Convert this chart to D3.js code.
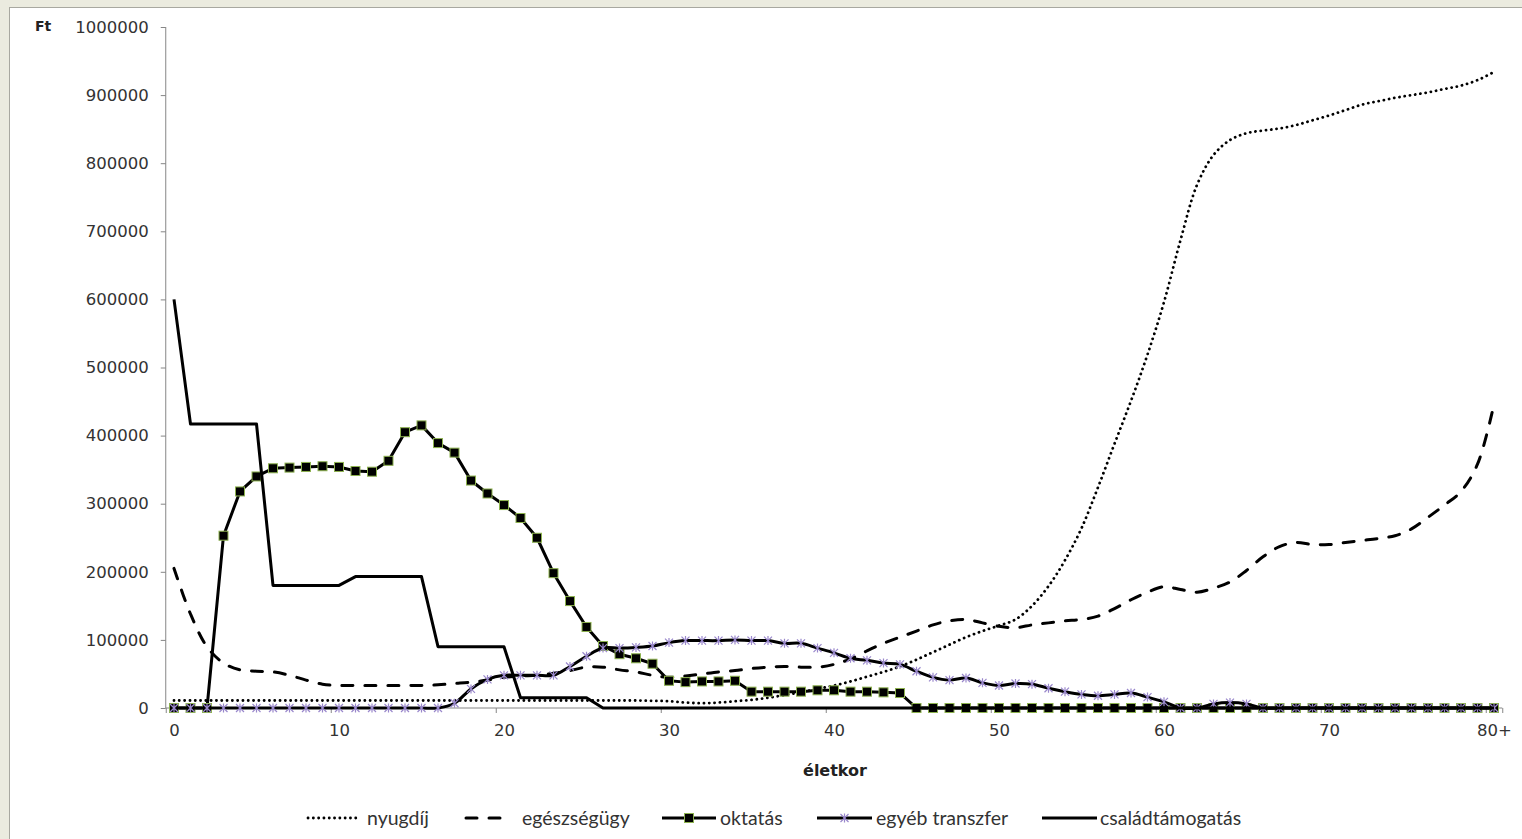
<!DOCTYPE html>
<html>
<head>
<meta charset="utf-8">
<script src="https://cdn.jsdelivr.net/npm/d3@7"></script>
<style>
  body { margin: 0; background: #ebebdf; }
  svg { display: block; }
</style>
</head>
<body>
<div id="chart"></div>
<script>
// életkor categories 0..80+, x tick labels every 10
const ages = d3.range(0, 81);
const ageLabels = ["0", "10", "20", "30", "40", "50", "60", "70", "80+"];
const yTicks = [0, 100000, 200000, 300000, 400000, 500000, 600000, 700000, 800000, 900000, 1000000];

const nyugdij = [
  11000, 11000, 11000, 11000, 11000, 11000, 11000, 11000, 11000, 11000,
  11000, 11000, 11000, 11000, 11000, 11000, 11000, 11000, 11000, 11000,
  11000, 11000, 11000, 11000, 11000, 11000, 11000, 11000, 11000, 10500,
  10000, 8000, 7000, 8000, 10000, 12000, 15000, 19000, 23000, 28000,
  33000, 39000, 46000, 53000, 61000, 71000, 82000, 93000, 104000, 113000,
  121000, 130000, 150000, 179000, 217000, 264000, 324000, 388000, 451000, 519000,
  596000, 687000, 768000, 812000, 834000, 844000, 848000, 851000, 856000, 863000,
  870000, 878000, 886000, 891000, 896000, 900000, 904000, 909000, 914000, 922000,
  934000
];

const egeszsegugy = [
  205000, 138000, 90000, 66000, 56000, 54000, 53000, 48000, 41000, 35000,
  33000, 33000, 33000, 33000, 33000, 33000, 34000, 36000, 38000, 41000,
  45000, 47000, 48000, 51000, 55000, 60000, 60000, 56000, 53000, 48000,
  45000, 47000, 50000, 53000, 55000, 58000, 60000, 61000, 60000, 60000,
  64000, 72000, 84000, 95000, 104000, 113000, 122000, 128000, 130000, 125000,
  120000, 118000, 122000, 125000, 128000, 130000, 135000, 146000, 159000, 170000,
  178000, 174000, 170000, 176000, 185000, 202000, 222000, 237000, 243000, 240000,
  240000, 243000, 246000, 249000, 253000, 263000, 280000, 298000, 318000, 358000,
  446000
];

const oktatas = [
  0, 0, 0, 253000, 318000, 340000, 352000, 353000, 354000, 355000,
  354000, 348000, 347000, 363000, 405000, 415000, 389000, 375000, 334000, 315000,
  298000, 279000, 250000, 198000, 157000, 119000, 91000, 79000, 73000, 65000,
  40000, 38000, 39000, 39000, 40000, 24000, 24000, 24000, 24000, 26000,
  26000, 24000, 24000, 23000, 22000, 0, 0, 0, 0, 0,
  0, 0, 0, 0, 0, 0, 0, 0, 0, 0,
  0, 0, 0, 0, 0, 0, 0, 0, 0, 0,
  0, 0, 0, 0, 0, 0, 0, 0, 0, 0,
  0
];

const egyebTranszfer = [
  0, 0, 0, 0, 0, 0, 0, 0, 0, 0,
  0, 0, 0, 0, 0, 0, 0, 7000, 28000, 42000,
  48000, 48000, 48000, 48000, 61000, 76000, 88000, 88000, 89000, 91000,
  96000, 99000, 99000, 99000, 100000, 99000, 99000, 95000, 95000, 88000,
  81000, 73000, 70000, 66000, 64000, 54000, 45000, 41000, 44000, 37000,
  33000, 36000, 35000, 29000, 24000, 20000, 18000, 20000, 22000, 16000,
  9000, 0, 0, 6000, 8000, 6000, 0, 0, 0, 0,
  0, 0, 0, 0, 0, 0, 0, 0, 0, 0,
  0
];

const csaladtamogatas = [
  600000, 417000, 417000, 417000, 417000, 417000, 180000, 180000, 180000, 180000,
  180000, 193000, 193000, 193000, 193000, 193000, 90000, 90000, 90000, 90000,
  90000, 15000, 15000, 15000, 15000, 15000, 0, 0, 0, 0,
  0, 0, 0, 0, 0, 0, 0, 0, 0, 0,
  0, 0, 0, 0, 0, 0, 0, 0, 0, 0,
  0, 0, 0, 0, 0, 0, 0, 0, 0, 0,
  0, 0, 0, 0, 0, 0, 0, 0, 0, 0,
  0, 0, 0, 0, 0, 0, 0, 0, 0, 0,
  0
];

const W = 1522, H = 839;
const plot = {left: 165.75, right: 1502.25, top: 27, bottom: 708};
const axisColor = "#868686";
const textColor = "#333";
const starColor = "#9a88cc";
const squareEdge = "#8db24f";

const svg = d3.select("#chart").append("svg")
  .attr("width", W)
  .attr("height", H);

// chart area
svg.append("rect")
  .attr("x", 9.5).attr("y", 7.5)
  .attr("width", W).attr("height", H)
  .attr("fill", "white")
  .attr("stroke", "#a8a8a0")
  .attr("stroke-width", 1);

const x = d3.scaleLinear()
  .domain([-0.5, 80.5])
  .range([plot.left, plot.right]);

const y = d3.scaleLinear()
  .domain([0, 1000000])
  .range([plot.bottom, plot.top]);

// y axis
const yAxis = svg.append("g")
  .attr("transform", `translate(${plot.left},0)`)
  .call(d3.axisLeft(y).tickValues(yTicks).tickSize(5).tickPadding(12).tickFormat(d3.format("d")));
yAxis.select(".domain").attr("stroke", axisColor).attr("d", `M0,${plot.top}V${plot.bottom}`);
yAxis.selectAll(".tick line").attr("stroke", axisColor);
yAxis.selectAll("text")
  .style("font-family", "DejaVu Sans")
  .style("font-size", "16.5px")
  .attr("fill", textColor);

// x axis: tick marks between categories, labels at category centres
const xTickMarks = svg.append("g")
  .attr("transform", `translate(0,${plot.bottom})`)
  .call(d3.axisBottom(x).tickValues([-0.5, 9.5, 19.5, 29.5, 39.5, 49.5, 59.5, 69.5, 79.5, 80.5]).tickSize(5).tickFormat(""));
xTickMarks.select(".domain").attr("stroke", axisColor).attr("d", `M${plot.left},0H${plot.right}`);
xTickMarks.selectAll(".tick line").attr("stroke", axisColor);

const xLabels = svg.append("g")
  .attr("transform", `translate(0,${plot.bottom})`)
  .call(d3.axisBottom(x).tickValues([0, 10, 20, 30, 40, 50, 60, 70, 80]).tickSize(0).tickPadding(16)
    .tickFormat((d, i) => ageLabels[i]));
xLabels.select(".domain").remove();
xLabels.selectAll("text")
  .style("font-family", "DejaVu Sans")
  .style("font-size", "16.5px")
  .attr("fill", textColor);

// axis titles
svg.append("text")
  .attr("x", 35).attr("y", 31)
  .style("font-family", "DejaVu Sans")
  .style("font-weight", "bold")
  .style("font-size", "14px")
  .attr("fill", "#222")
  .text("Ft");

svg.append("text")
  .attr("x", 835).attr("y", 776)
  .attr("text-anchor", "middle")
  .style("font-family", "DejaVu Sans")
  .style("font-weight", "bold")
  .style("font-size", "16px")
  .attr("fill", "#222")
  .text("életkor");

const smooth = d3.line()
  .x((d, i) => x(ages[i]))
  .y(d => y(d))
  .curve(d3.curveCatmullRom.alpha(0.5));

const straight = d3.line()
  .x((d, i) => x(ages[i]))
  .y(d => y(d));

const series = [
  {name: "nyugdíj", values: nyugdij, line: smooth, dash: "0.1 5.2", width: 2.8, cap: "round"},
  {name: "egészségügy", values: egeszsegugy, line: smooth, dash: "11 12", width: 3, cap: "round"},
  {name: "oktatás", values: oktatas, line: straight, dash: null, width: 3, cap: "butt", marker: "square"},
  {name: "egyéb transzfer", values: egyebTranszfer, line: smooth, dash: null, width: 3, cap: "butt", marker: "star"},
  {name: "családtámogatás", values: csaladtamogatas, line: straight, dash: null, width: 3, cap: "butt"}
];

const starPath = "M-4,-4L4,4M-4,4L4,-4M0,-4.5V4.5";

series.forEach(s => {
  svg.append("path")
    .datum(s.values)
    .attr("fill", "none")
    .attr("stroke", "black")
    .attr("stroke-width", s.width)
    .attr("stroke-linecap", s.cap)
    .attr("stroke-linejoin", "round")
    .attr("stroke-dasharray", s.dash)
    .attr("d", s.line);

  if (s.marker === "square") {
    svg.append("g").selectAll("rect")
      .data(s.values)
      .join("rect")
      .attr("x", (d, i) => x(ages[i]) - 4.5)
      .attr("y", d => y(d) - 4.5)
      .attr("width", 9).attr("height", 9)
      .attr("fill", "black")
      .attr("stroke", squareEdge)
      .attr("stroke-width", 1);
  }
  if (s.marker === "star") {
    svg.append("g").selectAll("path")
      .data(s.values)
      .join("path")
      .attr("transform", (d, i) => `translate(${x(ages[i])},${y(d)})`)
      .attr("d", starPath)
      .attr("fill", "none")
      .attr("stroke", starColor)
      .attr("stroke-width", 1.2);
  }
});

// legend
const legendY = 818;
const legendItems = [
  {s: series[0], x1: 308, x2: 360, tx: 367},
  {s: series[1], x1: 466, x2: 505, tx: 522},
  {s: series[2], x1: 662, x2: 716, tx: 720},
  {s: series[3], x1: 817, x2: 872, tx: 876},
  {s: series[4], x1: 1042, x2: 1097, tx: 1100}
];

const legend = svg.append("g");
legendItems.forEach(it => {
  const s = it.s;
  legend.append("line")
    .attr("x1", it.x1).attr("x2", it.x2)
    .attr("y1", legendY).attr("y2", legendY)
    .attr("stroke", "black")
    .attr("stroke-width", s.width)
    .attr("stroke-linecap", s.cap)
    .attr("stroke-dasharray", s.dash);
  const mx = (it.x1 + it.x2) / 2;
  if (s.marker === "square") {
    legend.append("rect")
      .attr("x", mx - 4.5).attr("y", legendY - 4.5)
      .attr("width", 9).attr("height", 9)
      .attr("fill", "black")
      .attr("stroke", squareEdge);
  }
  if (s.marker === "star") {
    legend.append("path")
      .attr("transform", `translate(${mx},${legendY})`)
      .attr("d", starPath)
      .attr("fill", "none")
      .attr("stroke", starColor)
      .attr("stroke-width", 1.2);
  }
  legend.append("text")
    .attr("x", it.tx).attr("y", legendY)
    .attr("dy", "0.35em")
    .style("font-family", "Lato")
    .style("font-size", "19.5px")
    .attr("fill", textColor)
    .text(s.name);
});
</script>
</body>
</html>
